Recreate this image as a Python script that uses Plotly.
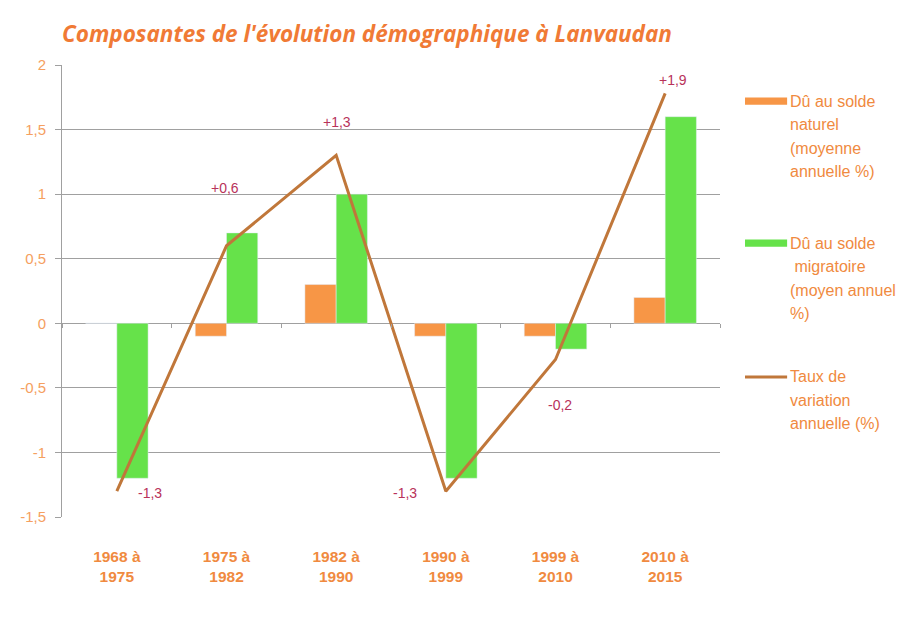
import plotly.graph_objects as go

categories = ["1968 à<br>1975", "1975 à<br>1982", "1982 à<br>1990", "1990 à<br>1999", "1999 à<br>2010", "2010 à<br>2015"]
solde_naturel = [0.0, -0.1, 0.3, -0.1, -0.1, 0.2]
solde_migratoire = [-1.2, 0.7, 1.0, -1.2, -0.2, 1.6]
taux_variation = [-1.3, 0.6, 1.3, -1.3, -0.28, 1.78]
taux_labels = ["-1,3", "+0,6", "+1,3", "-1,3", "-0,2", "+1,9"]
label_shift = [(33, -2), (-2, 58), (1, 33), (-41, -2), (4, -46), (8, 13)]
y_ticks = [2, 1.5, 1, 0.5, 0, -0.5, -1, -1.5]
y_ticktext = ["2", "1,5", "1", "0,5", "0", "-0,5", "-1", "-1,5"]
y_range = [-1.5, 2]

ORANGE = "#F79646"
GREEN = "#66E24A"
LINE = "#C0773A"
TXT = "#F08A40"
LBL = "#B8325A"

fig = go.Figure()
fig.add_trace(go.Bar(x=categories, y=solde_naturel, marker_color=ORANGE, name="naturel", showlegend=False))
fig.add_trace(go.Bar(x=categories, y=solde_migratoire, marker_color=GREEN, name="migratoire", showlegend=False))
fig.add_trace(go.Scatter(x=categories, y=taux_variation, mode="lines", line=dict(color=LINE, width=3), name="taux", showlegend=False))
# invisible trace carrying the category axis drawn at y = 0 (tick marks only)
fig.add_trace(go.Scatter(x=categories, y=taux_variation, xaxis="x2", mode="lines", opacity=0,
                         line=dict(width=0), hoverinfo="skip", showlegend=False))

for c, v, t, (dx, dy) in zip(categories, taux_variation, taux_labels, label_shift):
    fig.add_annotation(x=c, y=v, text=t, showarrow=False, xanchor="center", yanchor="middle",
                       xshift=dx, yshift=dy,
                       font=dict(family="Liberation Sans", size=14, color=LBL))

# custom legend
legend_items = [
    ("bar", ORANGE, 0.920, ["Dû au solde", "naturel", "(moyenne", "annuelle %)"]),
    ("bar", GREEN, 0.606, ["Dû au solde", " migratoire", "(moyen annuel", "%)"]),
    ("line", LINE, 0.310, ["Taux de", "variation", "annuelle (%)"]),
]
for kind, col, yc, lines in legend_items:
    if kind == "bar":
        fig.add_shape(type="rect", xref="paper", yref="paper", x0=1.038, x1=1.102,
                      y0=yc - 0.008, y1=yc + 0.008, fillcolor=col, line_width=0)
    else:
        fig.add_shape(type="line", xref="paper", yref="paper", x0=1.038, x1=1.102,
                      y0=yc, y1=yc, line=dict(color=col, width=3))
    for i, ln in enumerate(lines):
        fig.add_annotation(xref="paper", yref="paper", x=1.103, y=yc - i * 0.052, text=ln,
                           xanchor="left", yanchor="middle", showarrow=False,
                           font=dict(family="Liberation Sans", size=16, color=TXT))

n = len(categories)
fig.update_layout(
    width=910, height=617,
    margin=dict(l=54, r=198, t=57, b=108),
    paper_bgcolor="white", plot_bgcolor="white",
    barmode="group", bargap=0.43, bargroupgap=0,
    title=dict(text="<b><i>Composantes de l'évolution démographique à Lanvaudan</i></b>",
               x=0.0, xanchor="left", xref="paper", y=0.957, yanchor="middle",
               font=dict(family="Open Sans", size=22.5, color="#F07A35")),
    xaxis=dict(showgrid=False, showline=False, ticks="", ticklabelstandoff=28, automargin=False,
               range=[-0.5, n - 0.5],
               tickfont=dict(family="Liberation Sans", size=15.5, color=TXT, weight="bold")),
    xaxis2=dict(overlaying="x", anchor="free", side="bottom",
                position=(0 - y_range[0]) / (y_range[1] - y_range[0]),
                range=[-0.5, n - 0.5], showgrid=False, showline=False, showticklabels=False,
                ticks="outside", tickson="boundaries", ticklen=4, tickcolor="#A0A0A0", automargin=False),
    yaxis=dict(range=y_range, tickvals=y_ticks, ticktext=y_ticktext, automargin=False,
               showgrid=True, gridcolor="#A0A0A0", gridwidth=1,
               zeroline=True, zerolinecolor="#A0A0A0", zerolinewidth=1,
               showline=True, linecolor="#A0A0A0", linewidth=1,
               ticks="outside", ticklen=6, tickcolor="#A0A0A0", ticklabelstandoff=6,
               tickfont=dict(family="Liberation Sans", size=15, color="#F5A060")),
)

fig.write_html("out.html")
